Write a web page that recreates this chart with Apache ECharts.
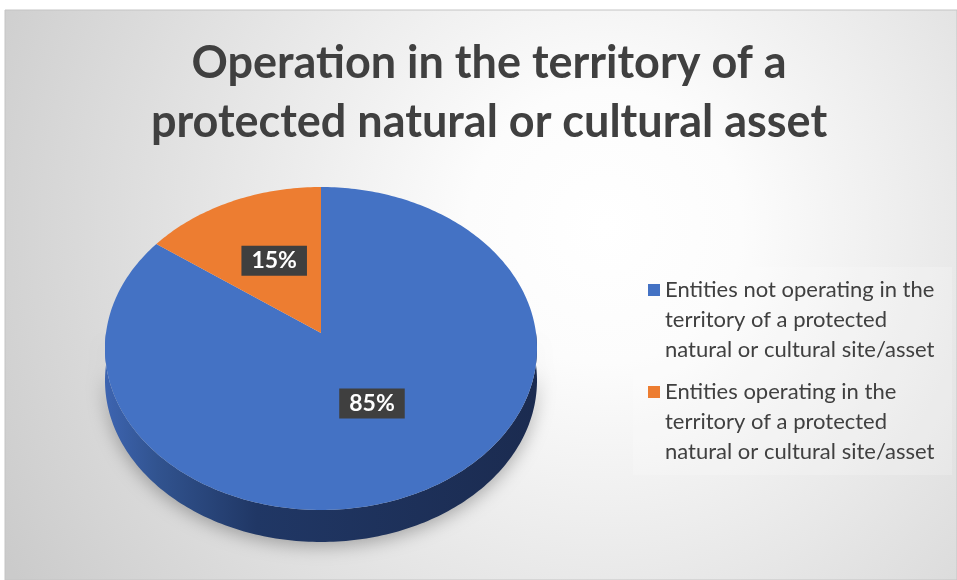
<!DOCTYPE html>
<html><head><meta charset="utf-8">
<script src="https://cdn.jsdelivr.net/npm/echarts@6/dist/echarts.min.js"></script>
<style>html,body{margin:0;padding:0;background:#fff}#c{width:957px;height:580px}</style>
</head><body><div id="c"></div>
<script>
const titleLines = ['Operation in the territory of a', 'protected natural or cultural asset'];
const categories = [
  'Entities not operating in the\nterritory of a protected\nnatural or cultural site/asset',
  'Entities operating in the\nterritory of a protected\nnatural or cultural site/asset'
];
const values = [85, 15];
const colors = ['#4472C4', '#ED7D31'];

const G = {cx: 321, cy: 333, rx: 215, ry: 160, a: 0.096, depth: 32};
function proj(theta, f, dy) {
  const u = f * Math.sin(theta), v = -f * Math.cos(theta);
  const k = 1 / (1 - G.a * v);
  return [G.cx + G.rx * u * k, G.cy + G.ry * v * k + (dy || 0)];
}
const total = values.reduce((s, v) => s + v, 0);
const starts = []; let acc = 0;
values.forEach(v => { starts.push(acc); acc += v; });

function arc(t0, t1, dy) {
  const pts = [];
  const n = Math.max(2, Math.ceil((t1 - t0) / (Math.PI / 180)));
  for (let j = 0; j <= n; j++) pts.push(proj(t0 + (t1 - t0) * j / n, 1, dy));
  return pts;
}

function makeRender(i) {
  return function (params, api) {
    const val = api.value(0);
    const t0 = starts[i] / total * 2 * Math.PI;
    const t1 = (starts[i] + val) / total * 2 * Math.PI;
    const children = [];
    const ws = Math.max(t0, Math.PI / 2), we = Math.min(t1, 3 * Math.PI / 2);
    if (we > ws) {
      const top = arc(ws, we, 0);
      const bot = arc(ws, we, G.depth).reverse();
      children.push({
        type: 'polygon', shape: {points: top.concat(bot)},
        style: {
          fill: {type: 'linear', x: G.cx - G.rx, y: 0, x2: G.cx + G.rx, y2: 0, global: true,
            colorStops: [{offset: 0, color: '#3d64b0'}, {offset: 0.12, color: '#31538f'},
                         {offset: 0.35, color: '#203765'}, {offset: 1, color: '#1b2b50'}]},
          shadowBlur: 18, shadowColor: 'rgba(0,0,0,0.3)', shadowOffsetY: 4
        }
      });
    }
    const face = [[G.cx, G.cy]].concat(arc(t0, t1, 0));
    children.push({type: 'polygon', shape: {points: face}, style: {fill: colors[i]}});
    const mid = (t0 + t1) / 2;
    const p = proj(mid, 0.5, -4);
    children.push({
      type: 'text', x: p[0], y: p[1], z2: 10,
      style: {
        text: Math.round(val / total * 100) + '%', fill: '#ffffff',
        font: 'bold 23px Lato', align: 'center', verticalAlign: 'middle',
        backgroundColor: '#3f3f3f', padding: [4, 10, 3, 10],
        boxShadowBlur: 6, boxShadowColor: 'rgba(0,0,0,0.45)', boxShadowOffsetX: 2, boxShadowOffsetY: 3
      }
    });
    return {type: 'group', children: children};
  };
}

const chart = echarts.init(document.getElementById('c'), null, {renderer: 'canvas'});
chart.setOption({
  animation: false,
  graphic: [
    {type: 'rect', shape: {x: 5, y: 10, width: 952, height: 570}, z: -10,
     style: {stroke: '#c4c4c4', lineWidth: 1,
       fill: {type: 'radial', x: 0.63, y: 0.38, r: 1.2,
         colorStops: [{offset: 0, color: '#ffffff'}, {offset: 0.2, color: '#fcfcfc'}, {offset: 1, color: '#cbcbcb'}]}}},
    {type: 'rect', shape: {x: 633, y: 267, width: 319, height: 208}, z: -5,
     style: {fill: 'rgba(255,255,255,0.2)'}}
  ],
  title: {
    text: titleLines.join('\n'), left: 489, top: 34, padding: 0, textAlign: 'center',
    textStyle: {fontFamily: 'Lato', fontWeight: 'bold', fontSize: 45, lineHeight: 59, color: '#404040'}
  },
  legend: {
    orient: 'vertical', left: 648, top: 215, padding: 0, itemWidth: 12, itemHeight: 12, itemGap: -48,
    icon: 'rect', selectedMode: false, data: categories,
    formatter: name => '\n\n' + name,
    textStyle: {fontFamily: 'Lato', fontSize: 22, color: '#404040', lineHeight: 30}
  },
  series: values.map((v, i) => ({
    type: 'custom', name: categories[i], coordinateSystem: 'none', silent: true,
    data: [v], renderItem: makeRender(i), itemStyle: {color: colors[i]}
  }))
});
</script></body></html>
